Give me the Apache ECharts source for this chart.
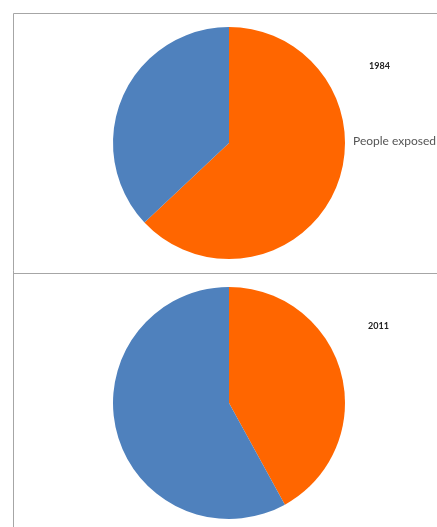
<!DOCTYPE html>
<html>
<head>
<meta charset="utf-8">
<script src="https://cdn.jsdelivr.net/npm/echarts@6/dist/echarts.min.js"></script>
<style>
  html, body { margin: 0; padding: 0; background: #fff; }
  #chart { width: 437px; height: 527px; }
</style>
</head>
<body>
<div id="chart"></div>
<script>
// 数据
var years = ['1984', '2011'];
var sliceNames = ['People exposed', 'Not exposed'];
var values1984 = [63, 37];
var values2011 = [42, 58];
var sliceColors = ['#ff6600', '#4f81bd'];

(function () {
  var myChart = echarts.init(document.getElementById('chart'));

  function makeData(vals) {
    return vals.map(function (v, i) {
      return { name: sliceNames[i], value: v, itemStyle: { color: sliceColors[i] } };
    });
  }

  var pieBase = {
    type: 'pie',
    radius: 116,
    startAngle: 90,
    clockwise: true,
    label: { show: false },
    labelLine: { show: false },
    silent: true,
    animation: false
  };

  var option = {
    backgroundColor: '#fff',
    // 面板边框
    graphic: [
      { type: 'line', shape: { x1: 13.5, y1: 13.5, x2: 437, y2: 13.5 }, style: { stroke: '#a6a6a6', lineWidth: 1 } },
      { type: 'line', shape: { x1: 13.5, y1: 13.5, x2: 13.5, y2: 527 }, style: { stroke: '#a6a6a6', lineWidth: 1 } },
      { type: 'line', shape: { x1: 13.5, y1: 273.5, x2: 437, y2: 273.5 }, style: { stroke: '#a6a6a6', lineWidth: 1 } },
      { type: 'text', left: 369, top: 62, style: { text: years[0], font: 'bold 9px Lato, sans-serif', fill: '#222' } },
      { type: 'text', left: 368, top: 322, style: { text: years[1], font: 'bold 9px Lato, sans-serif', fill: '#222' } },
      { type: 'text', left: 353, top: 135, style: { text: sliceNames[0], font: '12px Lato, sans-serif', fill: '#555' } }
    ],
    series: [
      Object.assign({}, pieBase, { center: [229, 143], data: makeData(values1984) }),
      Object.assign({}, pieBase, { center: [229, 403], data: makeData(values2011) })
    ]
  };

  myChart.setOption(option);
})();
</script>
</body>
</html>
